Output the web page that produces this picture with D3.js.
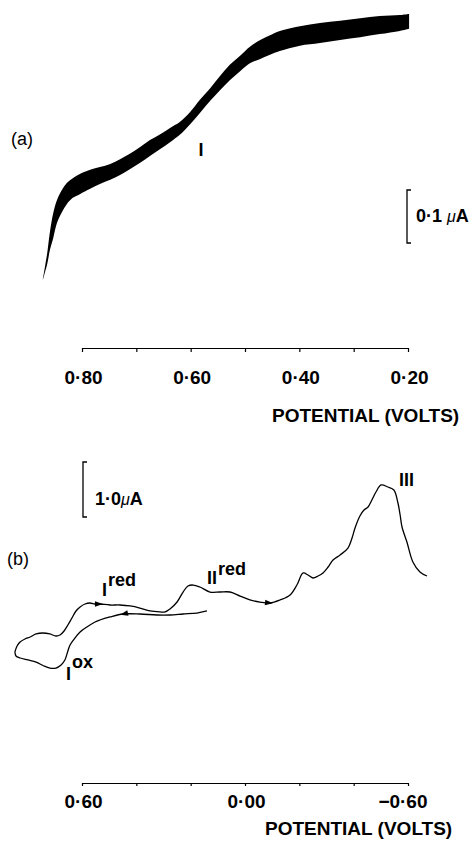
<!DOCTYPE html>
<html><head><meta charset="utf-8">
<script src="https://cdn.jsdelivr.net/npm/d3@7"></script>
<style>
html,body{margin:0;padding:0;background:#fff;}
svg{display:block;}
text{font-family:"Liberation Sans",Arial,Helvetica,sans-serif;fill:#000;}
</style>
</head><body><div id="chart"></div>
<script>
// ---------- Panel (a): polarogram band (potential in V, current in µA) ----------
const potentialA = [0.872,0.868,0.864,0.859,0.853,0.846,0.837,0.828,0.817,0.804,0.785,0.767,0.748,0.730,0.712,0.693,0.675,0.656,0.638,0.620,0.601,0.583,0.564,0.546,0.528,0.509,0.491,0.472,0.454,0.436,0.399,0.362,0.325,0.288,0.252,0.215,0.198];
const upperA = [0.002,0.026,0.051,0.091,0.126,0.151,0.170,0.183,0.192,0.200,0.208,0.213,0.219,0.228,0.238,0.251,0.264,0.275,0.287,0.298,0.317,0.340,0.362,0.385,0.406,0.423,0.440,0.453,0.462,0.470,0.479,0.485,0.489,0.494,0.498,0.500,0.502];
const lowerA = [0.000,0.015,0.030,0.057,0.079,0.108,0.128,0.143,0.155,0.162,0.172,0.181,0.189,0.198,0.209,0.221,0.234,0.247,0.260,0.274,0.294,0.315,0.338,0.358,0.377,0.394,0.409,0.417,0.425,0.432,0.442,0.447,0.453,0.458,0.464,0.470,0.474];
const ticksA = [0.8,0.7,0.6,0.5,0.4,0.3,0.2];
const tickLabelsA = ["0·80","","0·60","","0·40","","0·20"];

// ---------- Panel (b): cyclic voltammogram ----------
// cathodic (upper) branch, swept from +0.85 V towards -0.67 V
const cathodicPotential = [0.847,0.839,0.828,0.810,0.791,0.769,0.744,0.718,0.696,0.681,0.666,0.652,0.637,0.622,0.607,0.589,0.571,0.552,0.534,0.497,0.460,0.423,0.387,0.350,0.313,0.294,0.276,0.250,0.228,0.210,0.191,0.166,0.129,0.092,0.055,0.018,-0.018,-0.055,-0.092,-0.129,-0.166,-0.191,-0.214,-0.232,-0.250,-0.269,-0.287,-0.306,-0.324,-0.350,-0.379,-0.394,-0.405,-0.423,-0.438,-0.453,-0.467,-0.482,-0.501,-0.526,-0.548,-0.563,-0.571,-0.578,-0.596,-0.618,-0.644,-0.670];
const cathodicCurrent = [0.327,0.436,0.509,0.564,0.600,0.655,0.673,0.655,0.618,0.636,0.709,0.818,0.945,1.073,1.145,1.200,1.218,1.200,1.200,1.182,1.182,1.164,1.127,1.073,1.055,1.055,1.109,1.236,1.418,1.527,1.545,1.509,1.418,1.418,1.418,1.345,1.273,1.236,1.218,1.273,1.364,1.545,1.764,1.727,1.673,1.709,1.764,1.873,2.000,2.091,2.218,2.400,2.582,2.800,2.909,2.964,3.091,3.236,3.364,3.327,3.273,3.036,2.818,2.600,2.327,1.964,1.782,1.709];
// anodic (lower) branch, listed from +0.85 V to +0.14 V (swept in the opposite direction)
const anodicPotential = [0.847,0.843,0.828,0.799,0.769,0.740,0.718,0.696,0.677,0.663,0.652,0.644,0.626,0.607,0.582,0.552,0.534,0.497,0.449,0.387,0.324,0.276,0.228,0.177,0.140];
const anodicCurrent = [0.327,0.255,0.218,0.182,0.145,0.073,0.036,0.036,0.091,0.182,0.345,0.455,0.582,0.691,0.782,0.873,0.909,0.964,1.018,1.018,1.000,1.000,1.018,1.036,1.073];
const ticksB = [0.6,0.4,0.2,0.0,-0.2,-0.4,-0.6];
const tickLabelsB = ["0·60","","","0·00","","","−0·60"];
const arrowsB = [
  {branch:"cathodic", at:0.534, dir:1},
  {branch:"cathodic", at:-0.092, dir:1},
  {branch:"anodic", at:0.449, dir:-1}
];

const W = 476, H = 841;
const svg = d3.select("#chart").append("svg").attr("width", W).attr("height", H);

// ===== Panel (a) =====
const xA = d3.scaleLinear().domain([0.8, 0.2]).range([82, 408]);
const yA = d3.scaleLinear().domain([0, 0.5]).range([280, 15]);
const bandA = potentialA.map((v, i) => ({v, hi: upperA[i], lo: lowerA[i]}));
svg.append("path").datum(bandA)
  .attr("d", d3.area().x(d => xA(d.v)).y0(d => yA(d.lo)).y1(d => yA(d.hi)).curve(d3.curveCatmullRom.alpha(0.5)))
  .attr("fill", "#000");

function styleAxis(g, labelY) {
  g.attr("font-family", null).attr("font-size", null);
  g.select(".domain").attr("stroke", "#000").attr("stroke-width", 1.2);
  g.selectAll(".tick line").attr("stroke", "#000").attr("stroke-width", 1.2);
  g.selectAll(".tick text")
    .attr("y", labelY).attr("dy", null)
    .style("font-size", "19px").style("font-weight", "bold")
    .attr("text-anchor", d => d < 0 ? "end" : "middle")
    .attr("dx", d => d < 0 ? 19 : 1);
}
const axA = d3.axisBottom(xA).tickValues(ticksA).tickFormat((d, i) => tickLabelsA[i]).tickSize(4).tickSizeOuter(0);
svg.append("g").attr("transform", "translate(0,348)").call(axA).call(g => styleAxis(g, 36));

svg.append("text").attr("x", 272).attr("y", 422).attr("font-size", 19).attr("font-weight", "bold").text("POTENTIAL (VOLTS)");
svg.append("text").attr("x", 11).attr("y", 145).attr("font-size", 18).text("(a)");
svg.append("text").attr("x", 201).attr("y", 156).attr("font-size", 18).attr("font-weight", "bold").attr("text-anchor", "middle").text("I");

// scale bar (a): 0.1 µA
const barA = yA(0.3) - yA(0.4);
svg.append("path").attr("d", `M411,190H407V${190 + barA}H411`).attr("fill", "none").attr("stroke", "#000").attr("stroke-width", 1.3);
const tA = svg.append("text").attr("x", 416).attr("y", 222).attr("font-size", 18).attr("font-weight", "bold");
tA.append("tspan").text("0·1 ");
tA.append("tspan").attr("font-style", "italic").attr("font-weight", "normal").attr("font-size", 16).text("μ");
tA.append("tspan").text("A");

// ===== Panel (b) =====
const xB = d3.scaleLinear().domain([0.6, -0.6]).range([82, 408]);
const yB = d3.scaleLinear().domain([0, 3]).range([670, 505]);
const cath = cathodicPotential.map((v, i) => [xB(v), yB(cathodicCurrent[i])]);
const anod = anodicPotential.map((v, i) => [xB(v), yB(anodicCurrent[i])]);
const line = d3.line().curve(d3.curveCatmullRom.alpha(0.5));
[cath, anod].forEach(pts => {
  svg.append("path").attr("d", line(pts)).attr("fill", "none").attr("stroke", "#000").attr("stroke-width", 1.3).attr("stroke-linejoin", "round");
});
arrowsB.forEach(a => {
  const pts = a.branch === "cathodic" ? cath : anod;
  const px = xB(a.at);
  let k = 0;
  while (k < pts.length - 2 && pts[k + 1][0] < px) k++;
  const [x0, y0] = pts[k], [x1, y1] = pts[k + 1];
  const t = (px - x0) / (x1 - x0);
  const py = y0 + t * (y1 - y0);
  let ang = Math.atan2(y1 - y0, x1 - x0) * 180 / Math.PI;
  if (a.dir < 0) ang += 180;
  svg.append("path").attr("d", "M3,0L-5,-2.8L-5,2.8Z").attr("fill", "#000")
    .attr("transform", `translate(${px},${py}) rotate(${ang})`);
});

const axB = d3.axisBottom(xB).tickValues(ticksB).tickFormat((d, i) => tickLabelsB[i]).tickSize(3).tickSizeOuter(0);
svg.append("g").attr("transform", "translate(0,783)").call(axB).call(g => styleAxis(g, 25));
svg.append("text").attr("x", 265).attr("y", 835).attr("font-size", 19).attr("font-weight", "bold").text("POTENTIAL (VOLTS)");
svg.append("text").attr("x", 7).attr("y", 565).attr("font-size", 18).text("(b)");

// scale bar (b): 1.0 µA
const barB = yB(0) - yB(1);
svg.append("path").attr("d", `M87,462H83V${462 + barB}H87`).attr("fill", "none").attr("stroke", "#000").attr("stroke-width", 1.3);
const tB = svg.append("text").attr("x", 95).attr("y", 505).attr("font-size", 18).attr("font-weight", "bold");
tB.append("tspan").text("1·0");
tB.append("tspan").attr("font-style", "italic").attr("font-weight", "normal").attr("font-size", 16).text("μ");
tB.append("tspan").text("A");

// peak labels
function peakLabel(x, y, main, sup, supDy) {
  const t = svg.append("text").attr("x", x).attr("y", y).attr("font-size", 18).attr("font-weight", "bold");
  t.append("tspan").text(main);
  if (sup) t.append("tspan").attr("dy", supDy).attr("dx", 1).text(sup);
}
peakLabel(102, 596, "I", "red", -10);
peakLabel(207, 584, "II", "red", -9);
peakLabel(399, 486, "III", null, 0);
peakLabel(66, 680, "I", "ox", -12);
</script>
</body></html>
